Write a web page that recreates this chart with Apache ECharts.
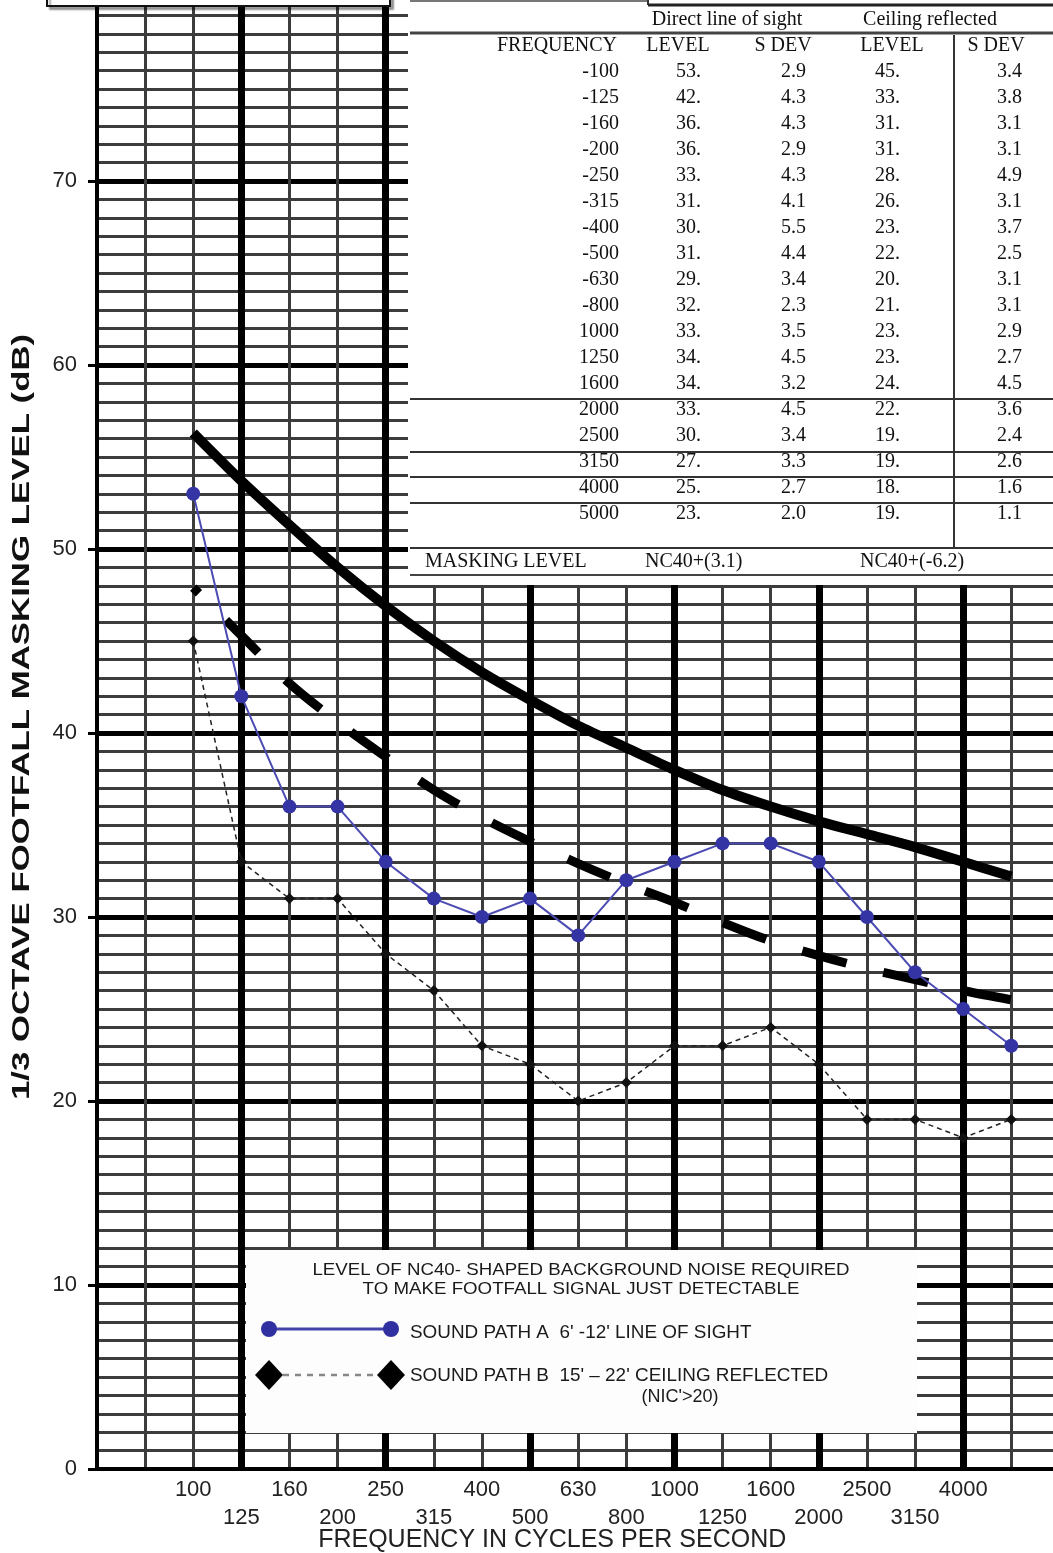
<!DOCTYPE html>
<html><head><meta charset="utf-8">
<script src="https://cdn.jsdelivr.net/npm/echarts@6/dist/echarts.min.js"></script>
<style>html,body{margin:0;padding:0;background:#fff}#c{width:1053px;height:1553px}</style>
</head><body><div id="c"></div>
<script>
// ---------- data ----------
const freqs = ['100','125','160','200','250','315','400','500','630','800','1000','1250','1600','2000','2500','3150','4000','5000'];
const tableFreq = ['-100','-125','-160','-200','-250','-315','-400','-500','-630','-800','1000','1250','1600','2000','2500','3150','4000','5000'];
const levelA = [53,42,36,36,33,31,30,31,29,32,33,34,34,33,30,27,25,23];
const sdevA  = ['2.9','4.3','4.3','2.9','4.3','4.1','5.5','4.4','3.4','2.3','3.5','4.5','3.2','4.5','3.4','3.3','2.7','2.0'];
const levelB = [45,33,31,31,28,26,23,22,20,21,23,23,24,22,19,19,18,19];
const sdevB  = ['3.4','3.8','3.1','3.1','4.9','3.1','3.7','2.5','3.1','3.1','2.9','2.7','4.5','3.6','2.4','2.6','1.6','1.1'];
const ncSolid  = [56.3,53.7,51.3,49.0,46.9,45.0,43.3,41.8,40.4,39.2,38.0,36.9,36.0,35.2,34.5,33.8,33.0,32.2];
const ncDashed = [47.9,45.3,42.7,40.6,38.7,36.9,35.4,34.1,32.9,31.8,30.8,29.7,28.7,27.9,27.2,26.6,26.0,25.5];
const maskingA = 'NC40+(3.1)';
const maskingB = 'NC40+(-6.2)';
const yTitle = '1/3 OCTAVE FOOTFALL MASKING LEVEL (dB)';
const xTitle = 'FREQUENCY IN CYCLES PER SECOND';
const legendHead = ['LEVEL OF NC40- SHAPED BACKGROUND NOISE REQUIRED', 'TO MAKE FOOTFALL SIGNAL JUST DETECTABLE'];
const legendA = "SOUND PATH A  6' -12' LINE OF SIGHT";
const legendB = "SOUND PATH B  15' \u2013 22' CEILING REFLECTED";
const legendB2 = "(NIC'>20)";

// ---------- chart ----------
const OFF = 2; // category index offset on the x value axis
const pts = arr => arr.map((v, i) => [i + OFF, v]);
const sans = '"Liberation Sans", Arial, sans-serif';
const serif = '"Liberation Serif", "Times New Roman", serif';

const G = [];
function rect(x, y, w, h, style, z) { G.push({type:'rect', shape:{x, y, width:w, height:h}, style, z: z || 100, silent:true}); }
function line(x1, y1, x2, y2, stroke, w, z, dash) {
  const st = {stroke, lineWidth:w};
  if (dash) st.lineDash = dash;
  G.push({type:'line', shape:{x1, y1, x2, y2}, style:st, z: z || 101, silent:true});
}
function text(t, x, y, align, font, opts) {
  const o = Object.assign({type:'text', x, y, z:102, silent:true,
    style:Object.assign({text:t, align, verticalAlign:'middle', fill:'#111'}, font)}, opts || {});
  G.push(o);
}

// top-left cut-off box
rect(47, -20, 343, 26, {fill:'#fff', stroke:'#111', lineWidth:2, shadowColor:'rgba(0,0,0,0.35)', shadowOffsetX:3, shadowOffsetY:3, shadowBlur:2});
// table panel
rect(408, -5, 660, 590, {fill:'#fff'});
line(410, 1, 648, 1, '#777', 2);
line(648, 0, 648, 5, '#333', 2);
line(648, 5, 1060, 5, '#222', 3);
line(410, 33, 1060, 33, '#444', 3);
line(954, 35, 954, 548, '#333', 2);
[399, 452, 477, 503].forEach(y => line(410, y, 1060, y, '#333', 2));
line(410, 548, 1060, 548, '#333', 2);
line(410, 575, 1060, 575, '#444', 2);

const tf = {fontFamily:serif, fontSize:20};
text('Direct line of sight', 727, 20, 'center', tf);
text('Ceiling reflected', 930, 20, 'center', tf);
text('FREQUENCY', 617, 46, 'right', tf);
text('LEVEL', 678, 46, 'center', tf);
text('S DEV', 783, 46, 'center', tf);
text('LEVEL', 892, 46, 'center', tf);
text('S DEV', 996, 46, 'center', tf);
for (let i = 0; i < tableFreq.length; i++) {
  const y = 72 + i * 26;
  text(tableFreq[i], 619, y, 'right', tf);
  text(levelA[i] + '.', 701, y, 'right', tf);
  text(sdevA[i], 806, y, 'right', tf);
  text(levelB[i] + '.', 900, y, 'right', tf);
  text(sdevB[i], 1022, y, 'right', tf);
}
text('MASKING LEVEL', 425, 562, 'left', tf);
text(maskingA, 645, 562, 'left', tf);
text(maskingB, 860, 562, 'left', tf);

// legend panel
rect(246, 1250, 671, 183, {fill:'#fdfdfd'});
const lf = {fontFamily:sans, fontSize:17, fill:'#1a1a1a'};
text(legendHead[0], 581, 1270, 'center', lf, {scaleX:1.1});
text(legendHead[1], 581, 1289, 'center', lf, {scaleX:1.1});
line(269, 1329, 391, 1329, '#4343aa', 3, 103);
G.push({type:'circle', shape:{cx:269, cy:1329, r:8}, style:{fill:'#3030a0'}, z:104, silent:true});
G.push({type:'circle', shape:{cx:391, cy:1329, r:8}, style:{fill:'#3030a0'}, z:104, silent:true});
const lf2 = {fontFamily:sans, fontSize:18, fill:'#1a1a1a'};
text(legendA, 410, 1333, 'left', lf2, {scaleX:1.05});
line(283, 1375, 377, 1375, '#888', 2.5, 103, [6, 6]);
[269, 391].forEach(cx => G.push({type:'polygon', shape:{points:[[cx-14,1375],[cx,1360],[cx+14,1375],[cx,1390]]}, style:{fill:'#000'}, z:104, silent:true}));
text(legendB, 410, 1376, 'left', lf2, {scaleX:1.05});
text(legendB2, 680, 1397, 'center', lf2);

// y-axis title (stretched along its length)
text(yTitle, 22, 717, 'center', {fontFamily:sans, fontSize:24, fontWeight:'bold', fill:'#111'}, {rotation:Math.PI/2, scaleX:1.45});

const option = {
  animation:false,
  backgroundColor:'#fff',
  grid:{left:97, top:-3, width:962.4, height:1472, containLabel:false, outerBoundsMode:'none'},
  xAxis:[
    {type:'value', min:0, max:20, interval:1, position:'bottom',
     axisLine:{show:true, onZero:false, lineStyle:{color:'#000', width:4}},
     axisTick:{show:false},
     axisLabel:{show:true, margin:7, fontFamily:sans, fontSize:22, color:'#222', lineHeight:28,
       formatter: v => { const i = Math.round(v) - OFF; if (i < 0 || i >= 17) return ''; return i % 2 === 0 ? freqs[i] : '\n' + freqs[i]; }},
     splitLine:{show:true, showMinLine:false, lineStyle:{color:'#3c3c3c', width:3}},
     name:xTitle, nameLocation:'middle', nameGap:59, nameMoveOverlap:false,
     nameTextStyle:{fontFamily:sans, fontSize:25, lineHeight:25, color:'#222', padding:[0,52,0,0]}},
    {type:'value', min:0, max:20, interval:3, position:'bottom',
     axisLine:{show:false}, axisTick:{show:false}, axisLabel:{show:false},
     splitLine:{show:true, showMinLine:false, lineStyle:{color:'#000', width:7}}}
  ],
  yAxis:[
    {type:'value', min:0, max:80, interval:1,
     axisLine:{show:false}, axisTick:{show:false}, axisLabel:{show:false},
     splitLine:{show:true, showMinLine:false, lineStyle:{color:'#3c3c3c', width:3}}},
    {type:'value', min:0, max:80, interval:10, position:'left',
     axisLine:{show:true, lineStyle:{color:'#000', width:4}},
     axisTick:{show:true, length:9, lineStyle:{color:'#000', width:3}},
     axisLabel:{margin:20, fontFamily:sans, fontSize:22, color:'#222', formatter: v => v >= 80 ? '' : String(v)},
     splitLine:{show:true, showMinLine:false, lineStyle:{color:'#000', width:5}}}
  ],
  series:[
    {name:'NC40+(3.1)', type:'line', xAxisIndex:0, yAxisIndex:1, data:pts(ncSolid), smooth:0.3, symbol:'none',
     lineStyle:{color:'#000', width:10, cap:'butt'}, z:3, silent:true},
    {name:'NC40+(-6.2)', type:'line', xAxisIndex:0, yAxisIndex:1, data:pts(ncDashed), smooth:0.3, symbol:'none',
     lineStyle:{color:'#000', width:9, type:[46,38], dashOffset:38, cap:'butt'}, z:3, silent:true},
    {name:'Sound path B', type:'line', xAxisIndex:0, yAxisIndex:1, data:pts(levelB), symbol:'diamond', symbolSize:11,
     itemStyle:{color:'#111'}, lineStyle:{color:'#222', width:1.5, type:[5,4]}, z:4, silent:true},
    {name:'Sound path A', type:'line', xAxisIndex:0, yAxisIndex:1, data:pts(levelA), symbol:'circle', symbolSize:14,
     itemStyle:{color:'#3434a4'}, lineStyle:{color:'#4b4bb2', width:2}, z:5, silent:true}
  ],
  graphic:G
};
const chart = echarts.init(document.getElementById('c'));
chart.setOption(option);
</script>
</body></html>
